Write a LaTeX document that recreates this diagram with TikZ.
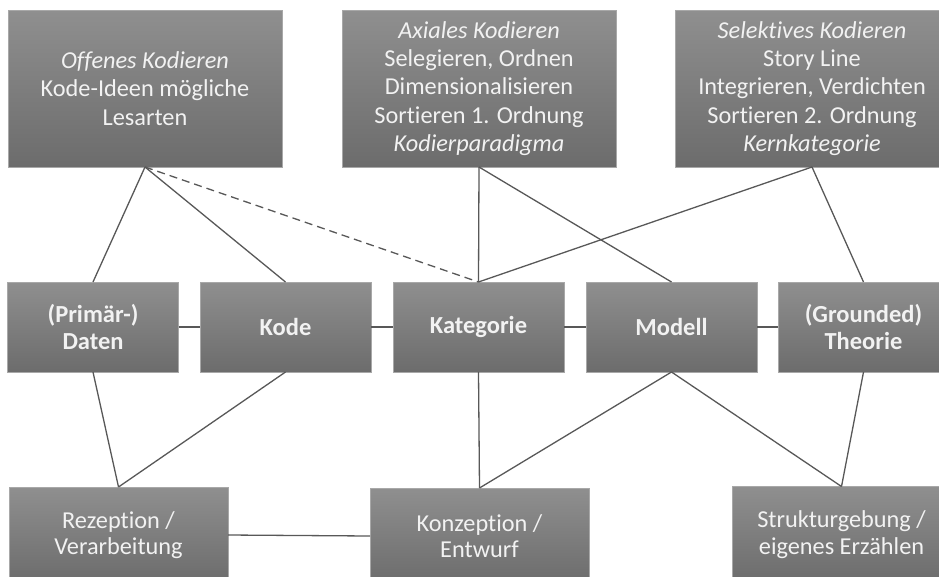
\documentclass[tikz,border=0pt]{standalone}
\usepackage{fontspec}
\setmainfont{Carlito}[Ligatures=NoCommon]
\definecolor{boxtop}{RGB}{143,143,143}
\definecolor{boxbot}{RGB}{108,108,108}
\definecolor{boxedge}{RGB}{168,168,168}
\definecolor{boxtext}{RGB}{242,242,242}
\definecolor{linkcol}{RGB}{88,88,88}
\begin{document}
\begin{tikzpicture}[x=1pt,y=-1pt,
  box/.style={draw=boxedge, line width=0.7pt, top color=boxtop, bottom color=boxbot,
    text=boxtext, align=center, inner sep=0pt, outer sep=0pt,
    font=\fontsize{24.3}{28.2}\selectfont},
  topbox/.style={box, minimum width=274pt, minimum height=157pt},
  midbox/.style={box, minimum width=171pt, minimum height=90pt, font=\fontsize{24.5}{27}\selectfont\bfseries},
  lowbox/.style={box, minimum width=219pt, minimum height=96pt, font=\fontsize{24.3}{26.5}\selectfont},
  link/.style={draw=linkcol, line width=1.3pt},
  weaklink/.style={link, dash pattern=on 8pt off 5pt}]
\useasboundingbox (0,0) rectangle (939,576);
\clip (0,0) rectangle (939,576);

% coding stages
\node[topbox] (off) at (145,88.5) {\textit{Offenes Kodieren}\\Kode-Ideen mögliche\\Lesarten};
\node[topbox] (axi) at (479,88.5) {\textit{Axiales Kodieren}\\Selegieren, Ordnen\\Dimensionalisieren\\Sortieren 1. Ordnung\\\textit{Kodierparadigma}};
\node[topbox] (sel) at (812,88.5) {\textit{Selektives Kodieren}\\Story Line\\Integrieren, Verdichten\\Sortieren 2. Ordnung\\\textit{Kernkategorie}};

% results chain
\node[midbox] (dat) at (93,327) {(Primär-)\\Daten};
\node[midbox] (kod) at (285.5,327) {Kode};
\node[midbox] (kat) at (478.5,327) {Kategorie};
\node[midbox] (mod) at (671.5,327) {Modell};
\node[midbox] (the) at (863.5,327) {(Grounded)\\Theorie};

% activities
\node[lowbox] (rez) at (118.5,535) {Rezeption /\\Verarbeitung};
\node[lowbox] (kon) at (479.5,536) {Konzeption /\\Entwurf};
\node[lowbox] (str) at (841.5,534.5) {Strukturgebung /\\eigenes Erzählen};

% upper connections
\draw[link] (off.south) -- (dat.north);
\draw[link] (off.south) -- (kod.north);
\draw[weaklink] (off.south) -- (kat.north);
\draw[link] (axi.south) -- (kat.north);
\draw[link] (axi.south) -- (mod.north);
\draw[link] (sel.south) -- (kat.north);
\draw[link] (sel.south) -- (the.north);

% chain
\draw[link] (dat.east) -- (kod.west);
\draw[link] (kod.east) -- (kat.west);
\draw[link] (kat.east) -- (mod.west);
\draw[link] (mod.east) -- (the.west);

% lower connections
\draw[link] (dat.south) -- (rez.north);
\draw[link] (kod.south) -- (rez.north);
\draw[link] (kat.south) -- (kon.north);
\draw[link] (mod.south) -- (kon.north);
\draw[link] (mod.south) -- (str.north);
\draw[link] (the.south) -- (str.north);
\draw[link] (rez.east) -- (kon.west);
\end{tikzpicture}
\end{document}
